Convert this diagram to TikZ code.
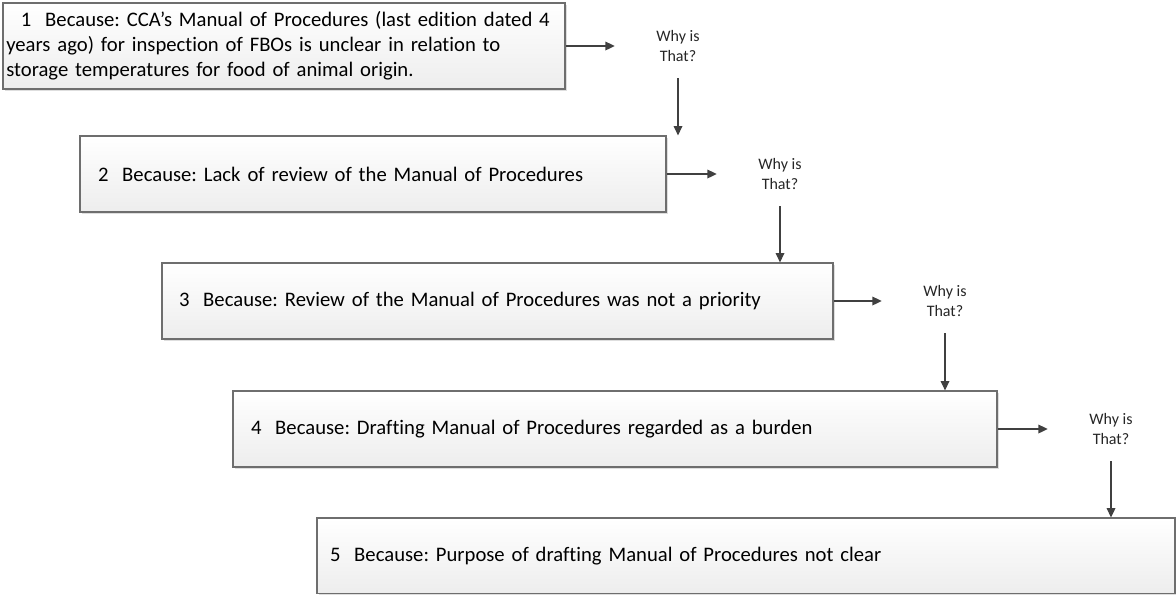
\documentclass[tikz,border=0pt]{standalone}
\usepackage{fontspec}
\setmainfont{Carlito}[Ligatures={NoCommon}]
\usetikzlibrary{arrows.meta,shadows}
\definecolor{arrowgray}{HTML}{404040}
\definecolor{boxborder}{HTML}{6E6E6E}
\definecolor{boxbottom}{HTML}{EDEDED}
\tikzset{
  whybox/.style={draw=boxborder, line width=0.9pt, top color=white, bottom color=boxbottom,
    drop shadow={shadow xshift=1.6pt, shadow yshift=-1.6pt, fill=black, opacity=0.13},
    align=left, inner ysep=0pt, font=\frenchspacing\fontsize{15.5pt}{18.8pt}\selectfont},
  whylabel/.style={inner sep=0pt, minimum width=94.5pt, minimum height=48pt, align=center,
    text=black!85, font=\fontsize{12pt}{14.3pt}\selectfont},
  flowarrow/.style={draw=arrowgray, line width=0.9pt, -{Triangle[length=7pt,width=6.5pt]}}
}
\begin{document}
\begin{tikzpicture}[x=0.75pt,y=-0.75pt]
\useasboundingbox (0,0) rectangle (1176,594);
% boxes (centres in px; sizes in pt = px*0.75)
\node[whybox, text width=416.5pt, inner xsep=2.5pt, minimum height=64.5pt] (b1) at (284,46)
  {\mbox{\hspace*{11pt}1~~Because: CCA’s Manual of Procedures (last edition dated 4}\\\mbox{years ago) for inspection of FBOs is unclear in relation to}\\\mbox{storage temperatures for food of animal origin.}};
\node[whybox, text width=412.5pt, inner xsep=13.5pt, minimum height=57pt] (b2) at (373,174)
  {2~~Because: Lack of review of the Manual of Procedures};
\node[whybox, text width=477.75pt, inner xsep=12.75pt, minimum height=57pt] (b3) at (497.5,301)
  {3~~Because: Review of the Manual of Procedures was not a priority};
\node[whybox, text width=546pt, inner xsep=13.5pt, minimum height=57pt] (b4) at (615,429)
  {4~~Because: Drafting Manual of Procedures regarded as a burden};
\node[whybox, text width=624pt, inner xsep=9.75pt, minimum height=56.6pt] (b5) at (746,555.8)
  {5~~Because: Purpose of drafting Manual of Procedures not clear};
% labels
\node[whylabel] (w1) at (678,46) {Why is\\That?};
\node[whylabel] (w2) at (780,174) {Why is\\That?};
\node[whylabel] (w3) at (945,301) {Why is\\That?};
\node[whylabel] (w4) at (1111,429) {Why is\\That?};
% arrows
\draw[flowarrow] (b1.east) -- (w1.west);
\draw[flowarrow] (b2.east) -- (w2.west);
\draw[flowarrow] (b3.east) -- (w3.west);
\draw[flowarrow] (b4.east) -- (w4.west);
\draw[flowarrow] (w1.south) -- (w1.south |- b2.north);
\draw[flowarrow] (w2.south) -- (w2.south |- b3.north);
\draw[flowarrow] (w3.south) -- (w3.south |- b4.north);
\draw[flowarrow] (w4.south) -- (w4.south |- b5.north);
\end{tikzpicture}
\end{document}
